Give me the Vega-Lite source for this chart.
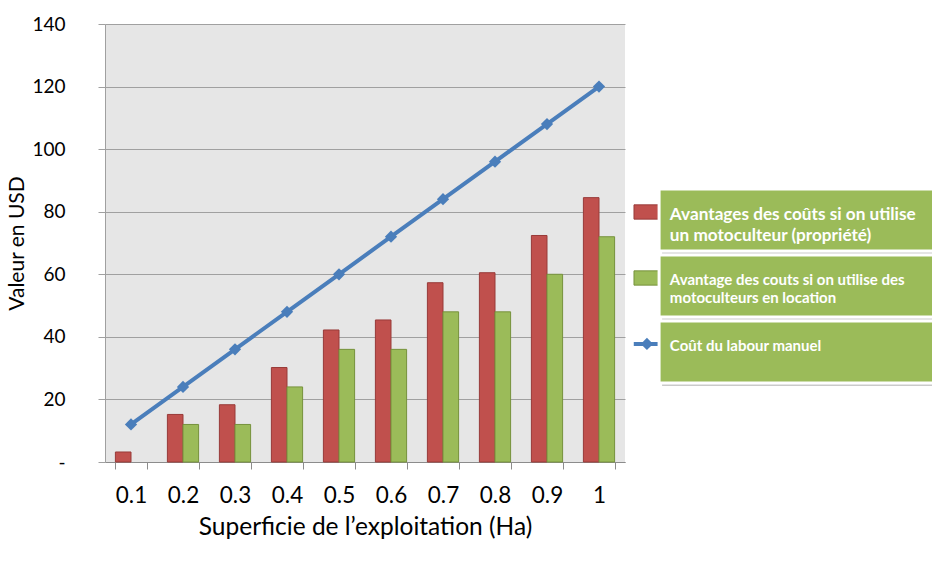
{
  "$schema": "https://vega.github.io/schema/vega-lite/v6.json",
  "padding": {"left": 6, "top": 15, "right": 0, "bottom": 0},
  "background": "white",
  "config": {"font": "Lato", "view": {"stroke": null}, "concat": {"spacing": 0}},
  "datasets": {
    "barres": [
      {"superficie": "0.1", "serie": "Avantages des coûts si on utilise un motoculteur (propriété)", "valeur": 3.2},
      {"superficie": "0.2", "serie": "Avantages des coûts si on utilise un motoculteur (propriété)", "valeur": 15.2},
      {"superficie": "0.2", "serie": "Avantage des couts si on utilise des motoculteurs en location", "valeur": 12},
      {"superficie": "0.3", "serie": "Avantages des coûts si on utilise un motoculteur (propriété)", "valeur": 18.3},
      {"superficie": "0.3", "serie": "Avantage des couts si on utilise des motoculteurs en location", "valeur": 12},
      {"superficie": "0.4", "serie": "Avantages des coûts si on utilise un motoculteur (propriété)", "valeur": 30.2},
      {"superficie": "0.4", "serie": "Avantage des couts si on utilise des motoculteurs en location", "valeur": 24},
      {"superficie": "0.5", "serie": "Avantages des coûts si on utilise un motoculteur (propriété)", "valeur": 42.2},
      {"superficie": "0.5", "serie": "Avantage des couts si on utilise des motoculteurs en location", "valeur": 36},
      {"superficie": "0.6", "serie": "Avantages des coûts si on utilise un motoculteur (propriété)", "valeur": 45.4},
      {"superficie": "0.6", "serie": "Avantage des couts si on utilise des motoculteurs en location", "valeur": 36},
      {"superficie": "0.7", "serie": "Avantages des coûts si on utilise un motoculteur (propriété)", "valeur": 57.3},
      {"superficie": "0.7", "serie": "Avantage des couts si on utilise des motoculteurs en location", "valeur": 48},
      {"superficie": "0.8", "serie": "Avantages des coûts si on utilise un motoculteur (propriété)", "valeur": 60.5},
      {"superficie": "0.8", "serie": "Avantage des couts si on utilise des motoculteurs en location", "valeur": 48},
      {"superficie": "0.9", "serie": "Avantages des coûts si on utilise un motoculteur (propriété)", "valeur": 72.4},
      {"superficie": "0.9", "serie": "Avantage des couts si on utilise des motoculteurs en location", "valeur": 60},
      {"superficie": "1", "serie": "Avantages des coûts si on utilise un motoculteur (propriété)", "valeur": 84.5},
      {"superficie": "1", "serie": "Avantage des couts si on utilise des motoculteurs en location", "valeur": 72}
    ],
    "ligne": [
      {"superficie": "0.1", "valeur": 12},
      {"superficie": "0.2", "valeur": 24},
      {"superficie": "0.3", "valeur": 36},
      {"superficie": "0.4", "valeur": 48},
      {"superficie": "0.5", "valeur": 60},
      {"superficie": "0.6", "valeur": 72},
      {"superficie": "0.7", "valeur": 84},
      {"superficie": "0.8", "valeur": 96},
      {"superficie": "0.9", "valeur": 108},
      {"superficie": "1", "valeur": 120}
    ],
    "legende": [
      {"serie": "Avantages des coûts si on utilise un motoculteur (propriété)", "label": "Avantages des coûts si on utilise\nun motoculteur (propriété)"},
      {"serie": "Avantage des couts si on utilise des motoculteurs en location", "label": "Avantage des couts si on utilise des\nmotoculteurs en location"},
      {"serie": "Coût du labour manuel", "label": "Coût du labour manuel"}
    ]
  },
  "hconcat": [
    {
      "width": 520,
      "height": 438,
      "view": {"fill": "#e6e6e6", "stroke": null},
      "layer": [
        {
          "data": {"name": "barres"},
          "mark": {"type": "bar", "strokeWidth": 1},
          "encoding": {
            "x": {
              "field": "superficie", "type": "ordinal",
              "scale": {"paddingInner": 0.4, "paddingOuter": 0.2},
              "axis": {
                "title": "Superficie de l’exploitation (Ha)",
                "labelAngle": 0, "labelFontSize": 22.5, "labelColor": "#000000",
                "labelPadding": 15, "tickBand": "extent", "tickSize": 7,
                "tickColor": "#8c8c8c", "domainColor": "#8c8c8c",
                "titleFontSize": 24.5, "titleFontWeight": "normal", "titleColor": "#000000",
                "titlePadding": 9, "grid": false
              }
            },
            "xOffset": {
              "field": "serie", "type": "nominal",
              "scale": {"domain": ["Avantages des coûts si on utilise un motoculteur (propriété)", "Avantage des couts si on utilise des motoculteurs en location"]}
            },
            "y": {
              "field": "valeur", "type": "quantitative",
              "scale": {"domain": [0, 140], "nice": false},
              "axis": {
                "title": "Valeur en USD",
                "values": [0, 20, 40, 60, 80, 100, 120, 140],
                "labelExpr": "datum.value === 0 ? '-' : datum.label",
                "labelFontSize": 19, "labelColor": "#000000", "labelPadding": 33,
                "tickSize": 7, "tickColor": "#a0a0a0", "gridColor": "#a0a0a0",
                "domainColor": "#a0a0a0", "grid": true,
                "titleFontSize": 21, "titleFontWeight": "normal", "titleColor": "#000000",
                "titlePadding": 4
              }
            },
            "color": {
              "field": "serie", "type": "nominal",
              "scale": {
                "domain": ["Avantages des coûts si on utilise un motoculteur (propriété)", "Avantage des couts si on utilise des motoculteurs en location", "Coût du labour manuel"],
                "range": ["#c0504d", "#9bbb59", "#4a7ebb"]
              },
              "legend": null
            },
            "stroke": {
              "field": "serie", "type": "nominal",
              "scale": {
                "domain": ["Avantages des coûts si on utilise un motoculteur (propriété)", "Avantage des couts si on utilise des motoculteurs en location", "Coût du labour manuel"],
                "range": ["#983a38", "#76923c", "#3d6ba3"]
              },
              "legend": null
            }
          }
        },
        {
          "data": {"name": "ligne"},
          "mark": {
            "type": "line", "color": "#4a7ebb", "strokeWidth": 4,
            "point": {"shape": "diamond", "filled": true, "size": 150, "color": "#4a7ebb"}
          },
          "encoding": {
            "x": {"field": "superficie", "type": "ordinal"},
            "y": {"field": "valeur", "type": "quantitative"}
          }
        }
      ]
    },
    {
      "width": 308,
      "height": 438,
      "data": {"name": "legende"},
      "encoding": {
        "y": {
          "field": "serie", "type": "nominal",
          "scale": {
            "domain": ["_a", "_b", "Avantages des coûts si on utilise un motoculteur (propriété)", "Avantage des couts si on utilise des motoculteurs en location", "Coût du labour manuel"],
            "paddingInner": 0.06, "paddingOuter": 0.848, "align": 0.295
          },
          "axis": null
        }
      },
      "layer": [
        {
          "transform": [{"filter": "datum.serie !== 'Coût du labour manuel'"}],
          "mark": {"type": "point", "shape": "M-1,-0.54H1V0.54H-1Z", "filled": true, "size": 700, "opacity": 1, "strokeWidth": 1},
          "encoding": {
            "x": {"datum": -1.55, "type": "quantitative", "scale": {"domain": [0, 100], "nice": false, "zero": false}, "axis": null},
            "y": {"field": "serie", "type": "nominal", "bandPosition": 0.37},
            "color": {"field": "serie", "type": "nominal", "legend": null},
            "stroke": {"field": "serie", "type": "nominal", "legend": null}
          }
        },
        {
          "transform": [{"filter": "datum.serie === 'Coût du labour manuel'"}],
          "mark": {"type": "point", "shape": "stroke", "size": 1156, "strokeWidth": 4, "color": "#4a7ebb", "opacity": 1},
          "encoding": {
            "x": {"datum": -0.4, "type": "quantitative"},
            "y": {"field": "serie", "type": "nominal", "bandPosition": 0.37}
          }
        },
        {
          "transform": [{"filter": "datum.serie === 'Coût du labour manuel'"}],
          "mark": {"type": "point", "shape": "diamond", "size": 150, "filled": true, "color": "#4a7ebb", "opacity": 1},
          "encoding": {
            "x": {"datum": -1.65, "type": "quantitative"},
            "y": {"field": "serie", "type": "nominal", "bandPosition": 0.37}
          }
        },
        {
          "mark": {"type": "rect", "fill": "#a6a6a6", "opacity": 0.6, "xOffset": 3, "yOffset": 3},
          "encoding": {
            "x": {"datum": 2.3, "type": "quantitative"},
            "x2": {"datum": 101}
          }
        },
        {
          "mark": {"type": "rect", "fill": "#9bbb59", "stroke": "white", "strokeWidth": 3},
          "encoding": {
            "x": {"datum": 2.3, "type": "quantitative"},
            "x2": {"datum": 101}
          }
        },
        {
          "transform": [{"filter": "datum.serie === 'Avantages des coûts si on utilise un motoculteur (propriété)'"}],
          "mark": {"type": "text", "align": "left", "baseline": "middle", "fontWeight": "bold", "color": "white", "lineBreak": "\n", "lineHeight": 21, "fontSize": 17.2},
          "encoding": {
            "x": {"datum": 5.8, "type": "quantitative"},
            "y": {"field": "serie", "type": "nominal", "bandPosition": 0.42},
            "text": {"field": "label", "type": "nominal"}
          }
        },
        {
          "transform": [{"filter": "datum.serie !== 'Avantages des coûts si on utilise un motoculteur (propriété)'"}],
          "mark": {"type": "text", "align": "left", "baseline": "middle", "fontWeight": "bold", "color": "white", "lineBreak": "\n", "lineHeight": 18.5, "fontSize": 15},
          "encoding": {
            "x": {"datum": 5.8, "type": "quantitative"},
            "y": {"field": "serie", "type": "nominal", "bandPosition": 0.4},
            "text": {"field": "label", "type": "nominal"}
          }
        }
      ]
    }
  ]
}
